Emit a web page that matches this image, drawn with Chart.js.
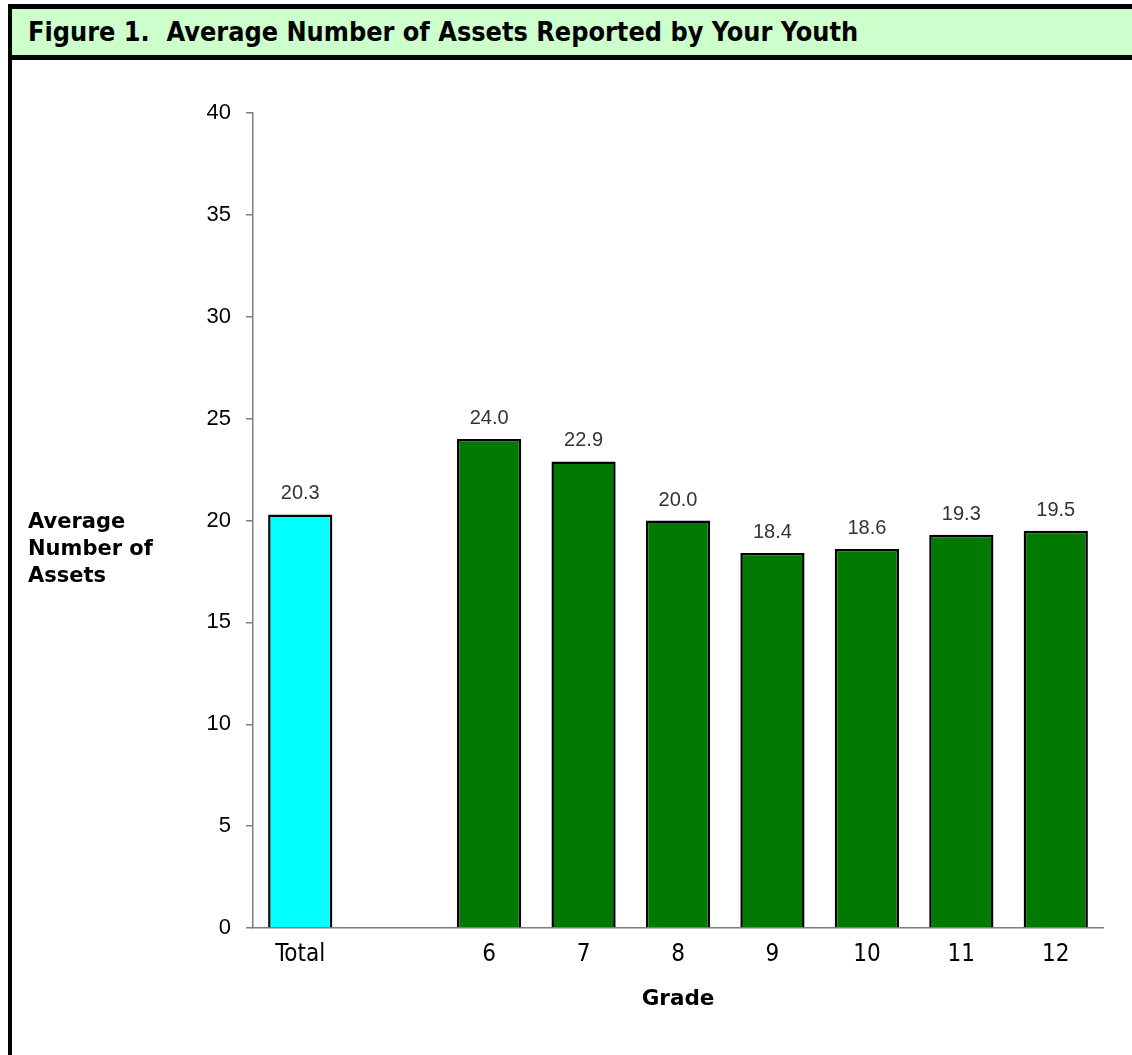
<!DOCTYPE html>
<html lang="en">
<head>
    <meta charset="UTF-8">
    <title>Figure 1. Average Number of Assets Reported by Your Youth</title>
    <script src="https://cdn.jsdelivr.net/npm/chart.js"></script>
    <style>
        body { margin: 0; background: #fff; }
        .page { position: relative; width: 1132px; height: 1055px; overflow: hidden; }
        .frame-top { position: absolute; left: 8px; top: 4px; right: -10px; height: 5px; background: #000; }
        .frame-left { position: absolute; left: 8px; top: 4px; width: 4px; bottom: 0; background: #000; }
        .title-band { position: absolute; left: 12px; top: 9px; right: -10px; height: 46px; background: #ccffcc;
                      border-bottom: 5px solid #000; }
        .title-band span { position: absolute; left: 16px; top: 0; line-height: 46px; white-space: nowrap;
                           font-family: 'DejaVu Sans Condensed', 'DejaVu Sans', sans-serif; font-weight: bold;
                           font-size: 26.8px; color: #000; }
        .y-label { position: absolute; left: 28px; top: 508px; line-height: 27px;
                   font-family: 'DejaVu Sans', sans-serif; font-weight: bold; font-size: 21px; color: #000; }
        #chart { position: absolute; left: 0; top: 0; }
    </style>
</head>
<body>
<div class="page">
    <canvas id="chart" width="1132" height="1055"></canvas>
    <div class="frame-top"></div>
    <div class="frame-left"></div>
    <div class="title-band"><span>Figure 1.&nbsp; Average Number of Assets Reported by Your Youth</span></div>
    <div class="y-label">Average<br>Number of<br>Assets</div>
</div>

<script>
  // Data
  const categories = ["Total", "", "6", "7", "8", "9", "10", "11", "12"];
  const assetValues = [20.3, null, 24.0, 22.9, 20.0, 18.4, 18.6, 19.3, 19.5];
  const yTicks = [0, 5, 10, 15, 20, 25, 30, 35, 40];

  // value labels above each bar
  const valueLabels = {
    id: 'valueLabels',
    afterDatasetsDraw(chart) {
      const ctx = chart.ctx;
      const meta = chart.getDatasetMeta(0);
      ctx.save();
      ctx.font = '20px "Liberation Sans", Arial, sans-serif';
      ctx.fillStyle = '#333333';
      ctx.textAlign = 'center';
      ctx.textBaseline = 'alphabetic';
      meta.data.forEach((bar, i) => {
        const v = assetValues[i];
        if (v == null) return;
        ctx.fillText(v.toFixed(1), bar.x, bar.y - 15);
      });
      ctx.restore();
    }
  };

  new Chart(document.getElementById('chart'), {
    type: 'bar',
    data: {
      labels: categories,
      datasets: [{
        data: assetValues,
        backgroundColor: categories.map((c, i) => i === 0 ? '#00ffff' : '#007a00'),
        borderColor: '#000',
        borderWidth: 2.5,
        borderSkipped: 'bottom',
        barPercentage: 0.68,
        categoryPercentage: 1.0
      }]
    },
    options: {
      responsive: false,
      animation: false,
      layout: { padding: { top: 113, right: 29, bottom: 0, left: 0 } },
      plugins: { legend: { display: false }, tooltip: { enabled: false }, title: { display: false } },
      scales: {
        x: {
          grid: { display: false, drawTicks: false },
          border: { display: true, color: '#7f7f7f', width: 1.5 },
          ticks: {
            color: '#000',
            padding: 12,
            maxRotation: 0,
            autoSkip: false,
            font: { family: '"Liberation Sans Narrow", "DejaVu Sans Condensed", sans-serif', size: 24 }
          },
          title: {
            display: true,
            text: 'Grade',
            color: '#000',
            padding: { top: 0, bottom: 43 },
            font: { family: '"DejaVu Sans", sans-serif', weight: 'bold', size: 21.5 }
          },
          afterFit(scale) { scale.height = 127; }
        },
        y: {
          min: 0,
          max: 40,
          afterBuildTicks(scale) { scale.ticks = yTicks.map(v => ({ value: v })); },
          grid: { display: true, drawOnChartArea: false, drawTicks: true, tickLength: 7, color: '#7f7f7f', lineWidth: 1.5 },
          border: { display: true, color: '#7f7f7f', width: 1.5 },
          ticks: {
            color: '#000',
            padding: 15,
            font: { family: '"Liberation Sans", Arial, sans-serif', size: 22 }
          },
          afterFit(scale) { scale.width = 253; }
        }
      }
    },
    plugins: [valueLabels]
  });
</script>
</body>
</html>
